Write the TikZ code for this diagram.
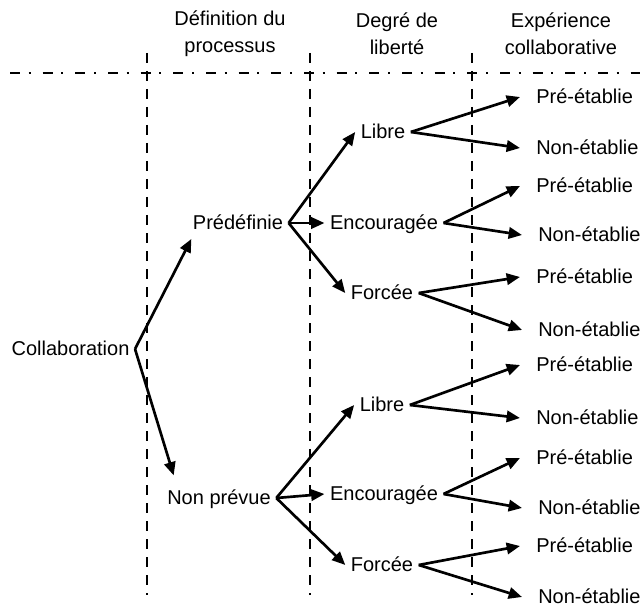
\documentclass[tikz,border=0pt]{standalone}
\usepackage{fontspec}
\setmainfont{Liberation Sans}
\usetikzlibrary{arrows.meta}
\pgfdeclarelayer{fond}
\pgfsetlayers{fond, main}
\tikzstyle{texte}=[inner xsep=4pt,inner ysep=2pt,font=\fontsize{15}{20}\selectfont,text height=10.5pt,text depth=1pt]
\tikzstyle{feuille}=[texte,anchor=west,inner xsep=0pt]
\tikzstyle{titre}=[align=center,inner sep=0pt,font=\fontsize{15}{20}\selectfont]
\tikzstyle{fleche}=[line width=2pt,-{Triangle[length=10pt,width=8.5pt]}]
\tikzstyle{colonne}=[line width=1.9pt,dash pattern=on 7.5pt off 6pt]
\tikzstyle{ligne}=[line width=1.9pt,dash pattern=on 7.5pt off 6.5pt on 1.5pt off 9pt]

\begin{document}
\begin{tikzpicture}[x=0.75pt,y=-0.75pt]
		\useasboundingbox (0,0) rectangle (640,610);
		\begin{pgfonlayer}{fond}
			\draw[ligne] (10,73)--(640,73);
			\foreach \x in {147,310,472}
				\draw[colonne] (\x,53)--(\x,595);
		\end{pgfonlayer}
		% titres des colonnes
		\node[titre] (t1) at (230,34) {Définition du\\processus};
		\node[titre] (t2) at (397,34) {Degré de\\liberté};
		\node[titre] (t3) at (561,34) {Expérience\\collaborative};
		% arbre
		\node[texte] (c) at (70.5,349) {Collaboration};
		\node[texte] (p) at (238,223) {Prédéfinie};
		\node[texte] (n) at (219,498) {Non prévue};
		\node[texte] (pl) at (383,132) {Libre};
		\node[texte] (pe) at (384,223) {Encouragée};
		\node[texte] (pf) at (382,293) {Forcée};
		\node[texte] (nl) at (382,405) {Libre};
		\node[texte] (ne) at (384,494) {Encouragée};
		\node[texte] (nf) at (382,565) {Forcée};
		\node[feuille] (pl1) at (536,97) {Pré-établie};
		\node[feuille] (pl2) at (536,148) {Non-établie};
		\node[feuille] (pe1) at (536,186) {Pré-établie};
		\node[feuille] (pe2) at (538,235) {Non-établie};
		\node[feuille] (pf1) at (536,277) {Pré-établie};
		\node[feuille] (pf2) at (538,330) {Non-établie};
		\node[feuille] (nl1) at (536,365) {Pré-établie};
		\node[feuille] (nl2) at (536,418) {Non-établie};
		\node[feuille] (ne1) at (536,458) {Pré-établie};
		\node[feuille] (ne2) at (538,508) {Non-établie};
		\node[feuille] (nf1) at (536,546) {Pré-établie};
		\node[feuille] (nf2) at (538,597) {Non-établie};
		\draw[fleche] (c.east)--([shift={(3pt,-4pt)}]p.south west);
		\draw[fleche] (c.east)--([shift={(9pt,9pt)}]n.north west);
		\foreach \a/\b in {p/pl,p/pe,p/pf,n/nl,n/ne,n/nf}
			\draw[fleche] (\a.east)--(\b.west);
		\foreach \a in {pl,pe,pf,nl,ne,nf}{
			\draw[fleche] (\a.east)--([xshift=-12pt]\a1.west);
			\draw[fleche] (\a.east)--([xshift=-12pt]\a2.west);
		}
	\end{tikzpicture}
\end{document}
